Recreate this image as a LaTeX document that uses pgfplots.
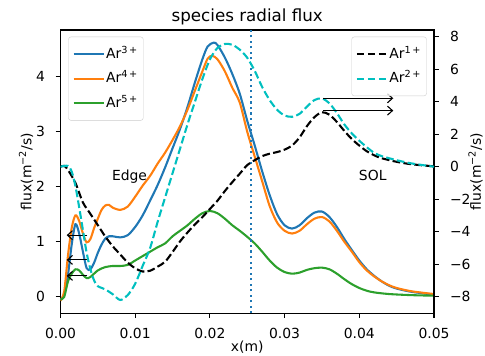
\documentclass[border=0pt]{standalone}
\usepackage{fontspec}
\setmainfont{DejaVu Sans}
\usepackage{pgfplots}
\pgfplotsset{compat=1.18}
\usetikzlibrary{arrows.meta}
\definecolor{mblue}{HTML}{1F77B4}
\definecolor{morange}{HTML}{FF7F0E}
\definecolor{mgreen}{HTML}{2CA02C}
\definecolor{mcyan}{HTML}{00BFBF}
\newcommand{\fs}{\fontsize{13.9pt}{16pt}\selectfont}
\pgfplotsset{
  myaxis/.style={
    width=373.5pt, height=283.3pt, scale only axis,
    xmin=0, xmax=0.05,
    scaled ticks=false,
    tick align=outside,
    major tick length=4.9pt,
    every tick/.style={black, line width=1.1pt},
    axis line style={line width=1.1pt, black, -},
    tick label style={font=\fs},
    label style={font=\fs},
    legend cell align=left,
    legend image code/.code={\draw[##1] (0pt,0pt) -- (30pt,0pt);},
    legend style={draw=black!20, rounded corners=2.5pt, fill=white, fill opacity=0.8, text opacity=1,
      font=\fs, inner xsep=4pt, inner ysep=9.5pt, row sep=9pt,
      nodes={inner sep=1.5pt, text height=10.5pt, text depth=2pt},
      /tikz/every even column/.append style={column sep=7pt}},
  },
  curve/.style={line width=2.08pt, smooth, no marks},
  dcurve/.style={line width=2.08pt, smooth, no marks, dash pattern=on 7.7pt off 3.3pt},
}
\begin{document}
\begin{tikzpicture}
\begin{axis}[myaxis, at={(0,0)}, anchor=south west,
  ymin=-0.30, ymax=4.85,
  xtick={0,0.01,0.02,0.03,0.04,0.05},
  xticklabels={0.00,0.01,0.02,0.03,0.04,0.05},
  ytick={0,1,2,3,4}, yticklabels={0,1,2,3,4},
  xtick pos=lower, ytick pos=lower,
  xticklabel style={anchor=north, inner sep=0pt, yshift=-10pt},
  yticklabel style={anchor=east, inner sep=0pt, xshift=-10.5pt},
  xlabel={x(m)}, ylabel={flux(m\textsuperscript{−2}/s)},
  every axis x label/.style={at={(axis description cs:0.5,-0.1207)}, anchor=center, font=\fs},
  every axis y label/.style={at={(axis description cs:-0.0924,0.5)}, rotate=90, anchor=center, font=\fs},
  title={species radial flux},
  every axis title/.style={at={(axis description cs:0.5,1)}, anchor=base, yshift=8.3pt, font=\fontsize{16.7pt}{19pt}\selectfont},
  legend style={at={(axis description cs:0,1)}, anchor=north west, xshift=7.8pt, yshift=-6.7pt},
]
\addplot[curve, mblue] coordinates {
(0,-0.05) (0.0005,0.05) (0.001,0.4) (0.0015,0.95) (0.002,1.32) (0.0025,1.15) (0.003,0.82) (0.0035,0.52)
(0.004,0.5) (0.0045,0.62) (0.005,0.8) (0.0055,0.95) (0.006,1.06) (0.0065,1.1) (0.007,1.1) (0.008,1.08)
(0.009,1.12) (0.010,1.27) (0.011,1.48) (0.012,1.75) (0.013,2.03) (0.014,2.35) (0.015,2.7) (0.016,3.05)
(0.017,3.45) (0.018,3.9) (0.019,4.32) (0.0197,4.55) (0.0205,4.62) (0.021,4.58) (0.022,4.35) (0.023,4.05)
(0.024,3.69) (0.025,3.2) (0.026,2.75) (0.027,2.28) (0.028,1.85) (0.029,1.5) (0.030,1.3) (0.031,1.24)
(0.032,1.3) (0.033,1.43) (0.034,1.53) (0.035,1.55) (0.036,1.45) (0.037,1.27) (0.038,1.05) (0.039,0.85)
(0.040,0.66) (0.041,0.5) (0.042,0.38) (0.043,0.28) (0.044,0.2) (0.045,0.15) (0.047,0.09) (0.05,0.04)};
\addlegendentry{Ar\textsuperscript{3\,+}}
\addplot[curve, morange] coordinates {
(0,-0.07) (0.0005,0.1) (0.001,0.75) (0.0015,1.25) (0.002,1.48) (0.0025,1.38) (0.003,1.15) (0.0035,0.99)
(0.004,1.05) (0.0045,1.25) (0.005,1.42) (0.0055,1.58) (0.006,1.66) (0.0065,1.67) (0.007,1.62) (0.008,1.58)
(0.009,1.64) (0.010,1.82) (0.011,2.02) (0.012,2.2) (0.013,2.42) (0.014,2.62) (0.015,2.85) (0.016,3.1)
(0.017,3.4) (0.018,3.75) (0.019,4.1) (0.0197,4.33) (0.0203,4.38) (0.021,4.32) (0.022,4.1) (0.023,3.8)
(0.024,3.53) (0.025,3.0) (0.026,2.55) (0.027,2.1) (0.028,1.65) (0.029,1.35) (0.030,1.2) (0.031,1.15)
(0.032,1.2) (0.033,1.32) (0.034,1.42) (0.035,1.45) (0.036,1.37) (0.037,1.2) (0.038,1.0) (0.039,0.82)
(0.040,0.63) (0.041,0.48) (0.042,0.37) (0.043,0.28) (0.044,0.21) (0.045,0.16) (0.047,0.1) (0.05,0.05)};
\addlegendentry{Ar\textsuperscript{4\,+}}
\addplot[curve, mgreen] coordinates {
(0,-0.05) (0.0005,0.0) (0.001,0.28) (0.0015,0.42) (0.002,0.5) (0.0025,0.48) (0.003,0.4) (0.0035,0.34)
(0.004,0.36) (0.005,0.48) (0.006,0.54) (0.007,0.56) (0.008,0.56) (0.009,0.58) (0.010,0.66) (0.011,0.74)
(0.012,0.82) (0.013,0.9) (0.014,0.97) (0.015,1.1) (0.016,1.2) (0.017,1.3) (0.018,1.42) (0.019,1.52)
(0.020,1.56) (0.021,1.52) (0.022,1.42) (0.023,1.3) (0.024,1.2) (0.025,1.09) (0.026,0.97) (0.027,0.82)
(0.028,0.66) (0.029,0.53) (0.030,0.45) (0.031,0.42) (0.032,0.44) (0.033,0.49) (0.034,0.52) (0.035,0.53)
(0.036,0.5) (0.037,0.42) (0.038,0.32) (0.039,0.23) (0.040,0.16) (0.041,0.11) (0.042,0.08) (0.044,0.05)
(0.047,0.03) (0.05,0.02)};
\addlegendentry{Ar\textsuperscript{5\,+}}
\addplot[mblue, line width=2.08pt, dash pattern=on 2.08pt off 3.44pt, forget plot] coordinates {(0.0255,-0.30) (0.0255,4.85)};
\node[font=\fs] at (axis cs:0.00924,2.19) {Edge};
\node[font=\fs] at (axis cs:0.0418,2.2) {SOL};
\draw[line width=1.1pt, -{Straight Barb[length=5pt,width=9pt]}] (axis cs:0.0036,1.12) -- (axis cs:0.00083,1.12);
\draw[line width=1.1pt, -{Straight Barb[length=5pt,width=9pt]}] (axis cs:0.0036,0.67) -- (axis cs:0.00083,0.67);
\draw[line width=1.1pt, -{Straight Barb[length=5pt,width=9pt]}] (axis cs:0.0036,0.38) -- (axis cs:0.00083,0.38);
\node[font=\fs, anchor=base west, inner sep=0pt] at (axis description cs:0,1) [yshift=5pt] {1e17};
\end{axis}
\begin{axis}[myaxis, at={(0,0)}, anchor=south west,
  axis x line=none, axis y line*=right,
  ymin=-9.02, ymax=8.41,
  ytick={-8,-6,-4,-2,0,2,4,6,8},
  yticklabels={−8,−6,−4,−2,0,2,4,6,8},
  yticklabel style={anchor=west, inner sep=0pt, xshift=11pt},
  ylabel={flux(m\textsuperscript{−2}/s)},
  every axis y label/.style={at={(axis description cs:1.111,0.5)}, rotate=90, anchor=center, font=\fs},
  legend style={at={(axis description cs:1,1)}, anchor=north east, xshift=-7.3pt, yshift=-6.7pt},
]
\addplot[dcurve, black] coordinates {
(0,0.0) (0.0005,0.05) (0.001,-0.2) (0.002,-1.0) (0.003,-2.2) (0.004,-2.9) (0.005,-3.6) (0.006,-4.3)
(0.007,-4.9) (0.008,-5.4) (0.009,-5.9) (0.010,-6.25) (0.011,-6.45) (0.012,-6.4) (0.013,-6.15) (0.014,-5.85)
(0.015,-5.25) (0.016,-4.6) (0.017,-4.05) (0.018,-3.55) (0.019,-3.1) (0.020,-2.6) (0.021,-2.1) (0.022,-1.5)
(0.023,-0.95) (0.024,-0.43) (0.025,0.1) (0.026,0.4) (0.027,0.65) (0.028,0.8) (0.029,0.9) (0.030,1.05)
(0.031,1.3) (0.032,1.8) (0.033,2.5) (0.034,3.05) (0.035,3.35) (0.036,3.2) (0.037,2.75) (0.038,2.2)
(0.039,1.7) (0.040,1.3) (0.041,0.95) (0.042,0.7) (0.043,0.52) (0.045,0.3) (0.047,0.15) (0.05,0.02)};
\addlegendentry{Ar\textsuperscript{1\,+}}
\addplot[dcurve, mcyan] coordinates {
(0,0.0) (0.001,0.05) (0.0015,-0.3) (0.002,-1.2) (0.0025,-2.5) (0.003,-3.9) (0.0035,-5.3) (0.004,-6.3)
(0.0045,-7.0) (0.005,-7.35) (0.006,-7.55) (0.007,-7.85) (0.008,-8.2) (0.009,-7.9) (0.010,-7.2) (0.011,-6.1)
(0.012,-5.0) (0.013,-3.4) (0.014,-1.9) (0.015,-0.4) (0.016,1.1) (0.017,2.6) (0.018,4.0) (0.019,5.4)
(0.020,6.6) (0.021,7.3) (0.022,7.55) (0.023,7.5) (0.024,7.2) (0.025,6.7) (0.026,5.9) (0.027,4.9)
(0.028,4.1) (0.029,3.5) (0.030,3.15) (0.031,3.07) (0.032,3.25) (0.033,3.7) (0.034,4.1) (0.035,4.2)
(0.036,3.9) (0.037,3.3) (0.038,2.6) (0.039,2.05) (0.040,1.6) (0.041,1.2) (0.042,0.85) (0.043,0.65)
(0.045,0.4) (0.047,0.2) (0.05,0.0)};
\addlegendentry{Ar\textsuperscript{2\,+}}
\draw[line width=1.1pt, -{Straight Barb[length=5pt,width=9pt]}] (axis cs:0.0352,4.21) -- (axis cs:0.04455,4.21);
\draw[line width=1.1pt, -{Straight Barb[length=5pt,width=9pt]}] (axis cs:0.0352,3.45) -- (axis cs:0.04455,3.45);
\node[font=\fs, anchor=base east, inner sep=0pt] at (axis description cs:1,1) [yshift=4.5pt] {1e16};
\end{axis}
\pgfresetboundingbox
\path[use as bounding box] (-60.5pt,-42.7pt) rectangle (424.5pt,313.3pt);
\end{tikzpicture}
\end{document}
